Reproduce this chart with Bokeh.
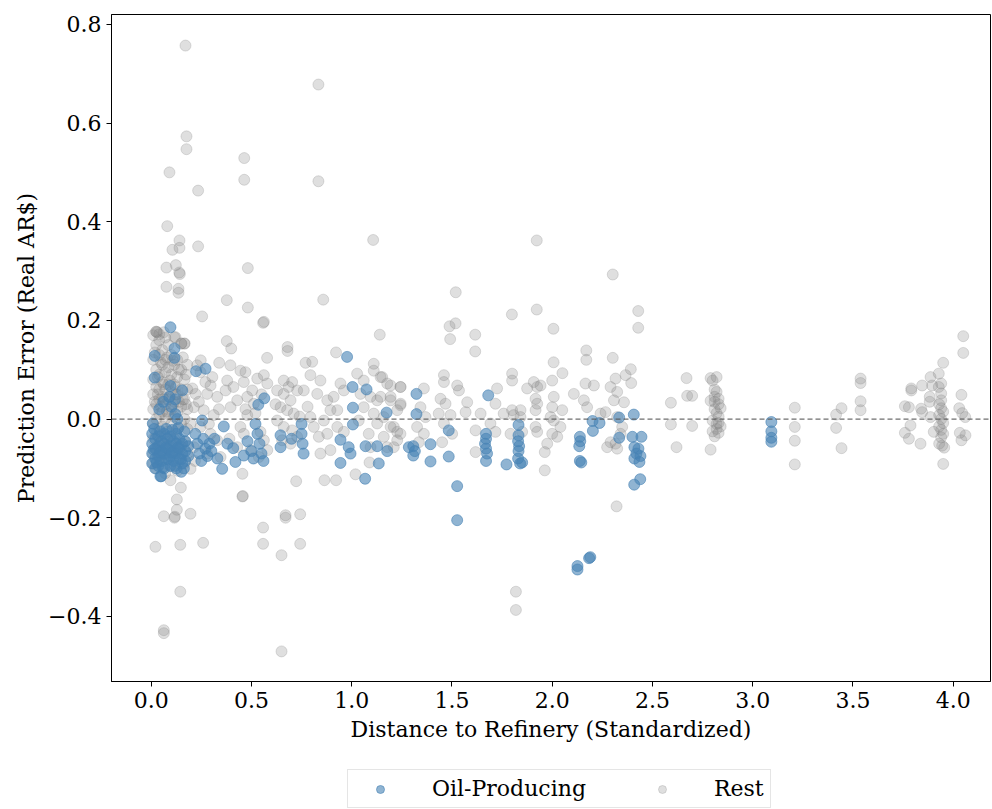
from bokeh.plotting import figure
from bokeh.layouts import column
from bokeh.models import (Range1d, FixedTicker, CustomJSTickFormatter, Span,
                          Legend, LegendItem, ColumnDataSource)
from bokeh.embed import file_html
from bokeh.resources import INLINE

# Prediction error against standardized distance to the nearest refinery.
# Oil-producing provinces
oil_x = [
    0.005, 0.005, 0.005, 0.005, 0.02, 0.02, 0.02, 0.02, 0.035, 0.035, 0.035, 0.035,
    0.05, 0.05, 0.05, 0.05, 0.065, 0.065, 0.065, 0.065, 0.08, 0.08, 0.08,
    0.095, 0.095, 0.095, 0.095, 0.11, 0.11, 0.11, 0.125, 0.125, 0.125, 0.125,
    0.14, 0.14, 0.14, 0.155, 0.155, 0.155, 0.17, 0.17, 0.17, 0.185, 0.185,
    0.096, 0.018, 0.116, 0.116, 0.018, 0.096, 0.155, 0.224, 0.271, 0.10, 0.12,
    0.13, 0.008, 0.046, 0.150, 0.04,
    0.22, 0.23, 0.24, 0.25, 0.26, 0.27, 0.28, 0.29, 0.30, 0.254, 0.315, 0.33,
    0.354, 0.362,
    0.38, 0.409, 0.42, 0.462, 0.48, 0.50, 0.52, 0.53, 0.54, 0.55, 0.56, 0.534,
    0.564, 0.51,
    0.645, 0.645, 0.75, 0.75, 0.755, 0.76, 0.70,
    0.944, 0.944, 0.985, 0.994, 1.069, 1.127, 1.177, 1.135, 1.067, 1.285, 0.977,
    1.004, 1.074, 1.174, 1.006, 1.006,
    1.323, 1.323, 1.307, 1.307, 1.315, 1.393, 1.393, 1.484, 1.484, 1.526, 1.526,
    1.681, 1.67, 1.67, 1.665, 1.67, 1.675, 1.67, 1.772,
    1.832, 1.832, 1.83, 1.835, 1.832, 1.83, 1.85, 1.84,
    2.201, 2.236, 2.203, 2.138, 2.14, 2.135, 2.138, 2.145, 2.126, 2.126, 2.184, 2.19,
    2.407, 2.334, 2.334, 2.40, 2.445, 2.41, 2.43, 2.42, 2.44, 2.41, 2.435, 2.409, 2.439,
    3.093, 3.093, 3.093, 3.093,
    # extra points inside the crowded block near the refineries
    0.012, 0.028, 0.043, 0.058, 0.073, 0.088, 0.103, 0.118, 0.133, 0.148, 0.163,
    0.015, 0.045, 0.075, 0.105, 0.135, 0.165, 0.06, 0.09, 0.12,
]
oil_y = [
    -0.03, -0.05, -0.07, -0.09, -0.04, -0.06, -0.08, -0.10, -0.035, -0.055, -0.075, -0.095,
    -0.045, -0.065, -0.085, -0.116, -0.03, -0.05, -0.07, -0.10, -0.04, -0.06, -0.08,
    -0.035, -0.055, -0.075, -0.095, -0.045, -0.065, -0.085, -0.03, -0.05, -0.07, -0.10,
    -0.04, -0.06, -0.08, -0.05, -0.07, -0.09, -0.045, -0.065, -0.085, -0.055, -0.075,
    0.186, 0.128, 0.143, 0.124, 0.084, 0.067, 0.058, 0.097, 0.102, 0.025, 0.01,
    -0.0, -0.009, -0.116, -0.107, 0.02,
    -0.03, -0.05, -0.07, -0.085, -0.04, -0.06, -0.075, -0.05, -0.065, -0.003, -0.04, -0.08,
    -0.101, -0.015,
    -0.05, -0.059, -0.087, -0.074, -0.045, -0.065, -0.01, -0.03, -0.05, -0.07, -0.085, 0.029,
    0.042, -0.08,
    -0.033, -0.057, -0.01, -0.03, -0.05, -0.07, -0.04,
    -0.042, -0.089, -0.057, -0.070, -0.055, -0.055, -0.065, -0.090, -0.121, -0.057, 0.126,
    0.065, 0.060, 0.013, 0.023, -0.011,
    0.051, 0.010, -0.055, -0.074, -0.065, -0.051, -0.086, -0.023, -0.076, -0.136, -0.205,
    0.048, -0.03, -0.04, -0.05, -0.06, -0.07, -0.085, -0.092,
    -0.012, -0.033, -0.045, -0.055, -0.065, -0.08, -0.088, -0.09,
    -0.004, -0.008, -0.024, -0.036, -0.045, -0.055, -0.085, -0.088, -0.298, -0.305, -0.282, -0.28,
    0.009, 0.003, -0.038, -0.036, -0.036, -0.057, -0.06, -0.07, -0.075, -0.08, -0.087, -0.133, -0.122,
    -0.006, -0.025, -0.038, -0.046,
    -0.062, -0.088, -0.068, -0.098, -0.058, -0.082, -0.068, -0.095, -0.058, -0.082, -0.10,
    -0.02, -0.025, -0.02, -0.022, -0.018, -0.025, 0.035, 0.045, 0.04,
]

# All other provinces
rest_x = [
    # dense block next to the refineries
    0.01, 0.01, 0.01, 0.01, 0.01, 0.01, 0.01, 0.01, 0.01,
    0.025, 0.025, 0.025, 0.025, 0.025, 0.025, 0.025, 0.025, 0.025,
    0.04, 0.04, 0.04, 0.04, 0.04, 0.04, 0.04, 0.04, 0.04,
    0.055, 0.055, 0.055, 0.055, 0.055, 0.055, 0.055, 0.055,
    0.07, 0.07, 0.07, 0.07, 0.07, 0.07, 0.07, 0.07, 0.07,
    0.085, 0.085, 0.085, 0.085, 0.085, 0.085, 0.085,
    0.10, 0.10, 0.10, 0.10, 0.10, 0.10, 0.10,
    0.115, 0.115, 0.115, 0.115, 0.115, 0.115, 0.115,
    0.13, 0.13, 0.13, 0.13, 0.13, 0.13, 0.13,
    0.15, 0.15, 0.15, 0.15, 0.15, 0.15,
    0.166, 0.166, 0.166, 0.166, 0.166, 0.166,
    0.18, 0.18, 0.18, 0.18, 0.18,
    0.018, 0.033, 0.048, 0.063, 0.078, 0.093, 0.108, 0.123, 0.138, 0.158, 0.173,
    0.018, 0.033, 0.048, 0.063, 0.078, 0.093, 0.108, 0.123, 0.138, 0.158, 0.173,
    # 0.2 - 0.35
    0.229, 0.246, 0.296, 0.221, 0.279, 0.329, 0.213, 0.262, 0.312, 0.196, 0.246, 0.296,
    0.329, 0.213, 0.279, 0.346, 0.205, 0.238, 0.270, 0.305, 0.338, 0.218, 0.288,
    # 0.35 - 0.58
    0.379, 0.371, 0.445, 0.470, 0.462, 0.504, 0.479, 0.529, 0.562, 0.579, 0.429, 0.512,
    0.396, 0.479, 0.445, 0.462, 0.545, 0.562, 0.429, 0.495, 0.537, 0.579,
    0.41, 0.52, 0.55, 0.39, 0.47,
    # 0.6 - 0.75
    0.661, 0.703, 0.628, 0.661, 0.695, 0.728, 0.645, 0.678, 0.711, 0.628, 0.661, 0.703,
    0.728, 0.653, 0.695, 0.62, 0.685, 0.74,
    # 0.76 - 0.97
    0.794, 0.844, 0.761, 0.828, 0.878, 0.944, 0.961, 0.894, 0.928, 0.794, 0.861, 0.811,
    0.878, 0.836, 0.961, 0.928, 0.894, 0.844, 0.78, 0.91,
    # 1.0 - 1.3
    1.027, 1.060, 1.110, 1.144, 1.177, 1.244, 1.044, 1.094, 1.127, 1.194, 1.244, 1.060,
    1.110, 1.160, 1.227, 1.035, 1.127, 1.210, 1.085, 1.160, 1.227, 1.094, 1.177,
    1.152, 1.194, 1.243, 1.144, 1.194, 1.243, 1.194, 1.227, 1.210, 1.243,
    # 1.3 - 1.65
    1.360, 1.343, 1.368, 1.326, 1.360, 1.335,
    1.460, 1.460, 1.526, 1.443, 1.468, 1.434, 1.493, 1.460, 1.501, 1.451, 1.535, 1.576,
    1.568, 1.618, 1.643, 1.618,
    # 1.69 - 1.95
    1.725, 1.717, 1.758, 1.800, 1.800, 1.800, 1.692, 1.717, 1.808, 1.842, 1.850, 1.842,
    1.792, 1.875, 1.908, 1.925, 1.942,
    # 1.9 - 2.05
    1.917, 1.925, 1.917, 1.917, 1.925, 2.000, 2.008, 2.000, 1.992, 2.008, 2.000, 2.025,
    2.041, 2.050, 1.975,
    # 2.1 - 2.37
    2.108, 2.166, 2.208, 2.158, 2.174, 2.241, 2.266, 2.274, 2.291,
    2.291, 2.316, 2.366, 2.324, 2.308, 2.358, 2.324, 2.341, 2.316, 2.324, 2.349,
    # 2.6 - 2.85
    2.592, 2.592, 2.620, 2.670, 2.673, 2.698, 2.698,
    2.79, 2.82, 2.80, 2.81, 2.82, 2.81, 2.83, 2.79, 2.81, 2.83, 2.84, 2.81, 2.82,
    2.83, 2.80, 2.82, 2.84, 2.80, 2.83, 2.81, 2.79, 2.82, 2.83,
    # 3.2 - 3.55
    3.210, 3.210, 3.210, 3.210, 3.416, 3.416, 3.443, 3.443, 3.538, 3.538, 3.538, 3.538,
    # 3.75 - 4.06
    3.759, 3.759, 3.779, 3.791, 3.791, 3.779, 3.787, 3.837, 3.845, 3.840, 3.845, 3.887,
    3.895, 3.928, 3.928, 3.950, 3.940, 3.940, 3.940, 3.930, 3.945, 3.955, 3.950, 3.883,
    3.883, 3.887, 3.903,
    3.93, 3.94, 3.95, 3.93, 3.94, 3.95, 3.93, 3.94, 3.95, 3.94,
    4.050, 4.050, 4.041, 4.030, 4.045, 4.060, 4.033, 4.061, 4.041,
    # scattered above the band
    0.171, 0.834, 0.176, 0.176, 0.464, 0.091, 0.464, 0.834, 0.234, 0.080, 0.141, 0.234,
    0.106, 0.141, 1.107, 0.076, 0.123, 0.140, 0.143, 0.482, 0.076, 0.136, 0.136, 0.377,
    0.858, 0.482, 0.254, 0.558, 0.562, 1.140, 0.377, 0.025, 0.04,
    1.923, 2.302, 1.519, 1.799, 1.923, 2.429, 2.429, 1.488, 1.518, 1.616, 2.006, 1.491,
    0.399, 0.578, 0.680, 0.680, 0.922, 0.770, 0.803, 1.110, 0.247, 0.339, 0.395,
    0.03, 0.063, 0.121, 0.15, 0.166,
    1.616, 2.170, 2.170, 2.302, 2.007, 2.051, 2.392, 2.394,
    # scattered below the band
    0.148, 0.455, 0.128, 0.128, 0.063, 0.116, 0.118, 0.196, 0.670, 0.670, 0.743, 0.558,
    0.021, 0.145, 0.259, 0.558, 0.743, 0.650, 0.145, 0.063, 0.063, 0.650,
    0.723, 0.864, 0.922, 0.096, 0.196, 0.455, 0.457, 1.019, 1.089,
    1.963, 1.963, 2.321, 1.819, 1.819,
]
rest_y = [
    0.17, 0.12, 0.08, 0.05, 0.02, -0.01, -0.04, -0.07, -0.09,
    0.177, 0.15, 0.10, 0.065, 0.03, 0.0, -0.03, -0.06, -0.10,
    0.16, 0.13, 0.09, 0.06, 0.04, 0.01, -0.02, -0.05, -0.08,
    0.14, 0.11, 0.075, 0.045, 0.015, -0.015, -0.045, -0.085,
    0.165, 0.12, 0.095, 0.06, 0.03, 0.0, -0.035, -0.07, -0.11,
    0.15, 0.105, 0.07, 0.04, 0.01, -0.025, -0.06,
    0.13, 0.09, 0.055, 0.02, -0.01, -0.05, -0.095,
    0.166, 0.11, 0.07, 0.035, 0.005, -0.04, -0.075,
    0.12, 0.085, 0.05, 0.015, -0.02, -0.065, -0.105,
    0.153, 0.10, 0.06, 0.025, -0.01, -0.055,
    0.153, 0.08, 0.04, 0.0, -0.045, -0.09,
    0.11, 0.06, 0.02, -0.02, -0.07,
    0.135, 0.085, 0.115, 0.07, 0.125, 0.078, 0.118, 0.065, 0.10, 0.125, 0.09,
    0.035, 0.05, 0.025, 0.04, 0.015, 0.045, 0.03, 0.05, 0.035, 0.04, 0.03,
    0.109, 0.095, 0.068, 0.051, 0.051, 0.045, 0.024, 0.018, 0.008, -0.009, -0.016, -0.030,
    -0.043, -0.057, -0.070, -0.077, 0.062, 0.035, 0.075, 0.085, 0.02, -0.085, -0.01,
    0.078, 0.058, 0.098, 0.095, 0.075, 0.058, 0.045, 0.082, 0.089, 0.072, 0.038, 0.031,
    0.024, 0.008, -0.016, -0.030, -0.026, -0.043, -0.057, -0.063, -0.077, -0.063,
    0.065, 0.012, 0.05, -0.04, 0.02,
    0.078, 0.075, 0.058, 0.051, 0.038, 0.058, 0.024, 0.018, 0.011, -0.003, -0.016, -0.023,
    -0.036, -0.043, -0.050, 0.03, 0.065, 0.005,
    0.089, 0.078, 0.058, 0.051, 0.038, 0.072, 0.058, 0.018, 0.018, 0.004, -0.003, -0.016,
    -0.030, -0.036, -0.026, -0.016, -0.063, -0.070, 0.025, 0.045,
    0.092, 0.078, 0.098, 0.085, 0.072, 0.065, 0.051, 0.045, 0.038, 0.038, 0.031, 0.024,
    0.011, 0.004, 0.018, -0.003, -0.009, -0.016, -0.030, -0.036, -0.043, -0.057, -0.057,
    0.085, 0.068, 0.065, 0.045, 0.045, 0.028, -0.016, -0.026, -0.057, -0.030,
    0.062, 0.024, 0.004, -0.016, -0.030, -0.047,
    0.089, 0.075, 0.068, 0.041, 0.031, 0.011, 0.008, -0.009, -0.030, -0.047, 0.058, 0.034,
    0.014, -0.023, 0.011, -0.067,
    0.062, 0.031, 0.011, 0.092, 0.078, 0.018, -0.009, -0.026, 0.008, 0.018, -0.026, 0.004,
    -0.030, 0.062, 0.075, 0.065, 0.068,
    0.041, 0.031, 0.018, -0.016, -0.026, 0.078, 0.045, 0.024, 0.004, -0.003, -0.030, -0.036,
    -0.016, 0.018, -0.050,
    0.051, 0.072, 0.068, 0.038, 0.024, 0.011, 0.014, -0.057, -0.047,
    0.065, 0.082, 0.089, 0.055, 0.038, 0.034, 0.004, -0.030, -0.050, -0.060, -0.016,
    0.033, -0.011, -0.057, 0.083, 0.047, 0.047, -0.014,
    0.083, 0.085, 0.078, 0.060, 0.055, 0.045, 0.041, 0.037, 0.035, 0.030, 0.022, 0.020, 0.012,
    0.005, -0.003, -0.010, -0.015, -0.025, -0.028, -0.035, -0.062, -0.020, -0.008,
    0.023, -0.016, -0.044, -0.092, 0.009, -0.018, 0.022, -0.059, 0.082, 0.073, 0.036, 0.018,
    0.026, -0.028, -0.040, 0.062, 0.058, 0.024, -0.013, -0.050, 0.068, 0.021, 0.014, 0.085,
    0.068, 0.065, 0.092, 0.114, 0.072, 0.052, 0.038, -0.050, -0.054, -0.058, -0.091, 0.045,
    0.035, 0.004, -0.026,
    0.030, 0.022, 0.015, 0.008, 0.0, -0.008, -0.015, -0.022, -0.030, -0.037,
    0.168, 0.134, 0.049, 0.022, 0.012, 0.004, -0.028, -0.033, -0.043,
    0.757, 0.678, 0.573, 0.547, 0.529, 0.500, 0.485, 0.482, 0.463, 0.391, 0.362, 0.350,
    0.343, 0.347, 0.363, 0.307, 0.312, 0.297, 0.294, 0.306, 0.268, 0.264, 0.256, 0.241,
    0.242, 0.226, 0.208, 0.195, 0.197, 0.171, 0.158, 0.177, 0.172,
    0.362, 0.293, 0.257, 0.212, 0.222, 0.219, 0.185, 0.188, 0.194, 0.171, 0.183, 0.162,
    0.143, 0.124, 0.146, 0.138, 0.135, 0.114, 0.116, 0.112, 0.119, 0.114, 0.109,
    0.176, 0.176, 0.166, 0.153, 0.153,
    0.137, 0.139, 0.120, 0.124, 0.115, 0.093, 0.101, 0.073,
    -0.139, -0.157, -0.163, -0.184, -0.197, -0.200, -0.198, -0.192, -0.195, -0.200, -0.193, -0.220,
    -0.259, -0.255, -0.251, -0.253, -0.253, -0.276, -0.350, -0.428, -0.434, -0.471,
    -0.126, -0.124, -0.124, -0.124, -0.101, -0.111, -0.156, -0.112, -0.088,
    -0.104, -0.067, -0.177, -0.350, -0.387,
]

x_ticks = [0.0, 0.5, 1.0, 1.5, 2.0, 2.5, 3.0, 3.5, 4.0]
y_ticks = [-0.4, -0.2, 0.0, 0.2, 0.4, 0.6, 0.8]

FONT = "DejaVu Serif"
REST_STYLE = dict(size=11, fill_color="gray", line_color="gray",
                  fill_alpha=0.25, line_alpha=0.25)
OIL_STYLE = dict(size=11, fill_color="steelblue", line_color="steelblue",
                 fill_alpha=0.6, line_alpha=0.6)

p = figure(width=992, height=752, output_backend="svg", toolbar_location=None,
           x_range=Range1d(-0.198, 4.186), y_range=Range1d(-0.532, 0.820),
           min_border_left=111, min_border_right=2, min_border_top=14,
           min_border_bottom=71)
p.grid.visible = False
p.outline_line_color = "black"
p.outline_line_width = 1
p.background_fill_color = "white"
p.border_fill_color = "white"

fmt = CustomJSTickFormatter(code="return tick.toFixed(1).replace('-', '\\u2212');")
for ax, ticks, label in ((p.xaxis[0], x_ticks, "Distance to Refinery (Standardized)"),
                         (p.yaxis[0], y_ticks, "Prediction Error (Real AR$)")):
    ax.ticker = FixedTicker(ticks=ticks)
    ax.formatter = fmt
    ax.minor_tick_line_color = None
    ax.major_tick_in = 0
    ax.major_tick_out = 5
    ax.major_tick_line_color = "black"
    ax.axis_line_color = "black"
    ax.major_label_text_font = FONT
    ax.major_label_text_font_size = "22px"
    ax.major_label_text_color = "black"
    ax.major_label_standoff = 5
    ax.axis_label = label
    ax.axis_label_text_font = FONT
    ax.axis_label_text_font_size = "22px"
    ax.axis_label_text_font_style = "normal"
    ax.axis_label_text_color = "black"
    ax.axis_label_standoff = 6

rest_src = ColumnDataSource(data=dict(x=rest_x, y=rest_y))
oil_src = ColumnDataSource(data=dict(x=oil_x, y=oil_y))

p.scatter("x", "y", source=rest_src, **REST_STYLE)
p.scatter("x", "y", source=oil_src, **OIL_STYLE)

p.add_layout(Span(location=0, dimension="width", line_color="#555555",
                  line_alpha=0.85, line_width=1.3, line_dash="5 3"))

# strip under the chart that carries the legend; its key glyphs hold no
# drawable position (NaN) so only their legend swatches appear
leg = figure(width=992, height=57, output_backend="svg", toolbar_location=None,
             x_range=Range1d(0, 1), y_range=Range1d(0, 1),
             min_border_left=0, min_border_right=0, min_border_top=0,
             min_border_bottom=0)
leg.axis.visible = False
leg.grid.visible = False
leg.outline_line_color = None
leg.background_fill_color = "white"
leg.border_fill_color = "white"
nan = float("nan")
oil_key = leg.scatter(x=[nan], y=[nan], **OIL_STYLE)
rest_key = leg.scatter(x=[nan], y=[nan], **REST_STYLE)

legend = Legend(items=[LegendItem(label="Oil-Producing", renderers=[oil_key]),
                       LegendItem(label="Rest", renderers=[rest_key])],
                orientation="horizontal", location=(236, 1),
                label_text_font=FONT, label_text_font_size="22px",
                label_text_color="black",
                glyph_width=52, glyph_height=20, label_standoff=26, spacing=50,
                padding=6, margin=0,
                border_line_color="#cccccc", border_line_width=1,
                background_fill_color="white", background_fill_alpha=1.0)
leg.add_layout(legend, "center")

page = column(p, leg, spacing=0)
open("out.html", "w").write(file_html(page, INLINE))
